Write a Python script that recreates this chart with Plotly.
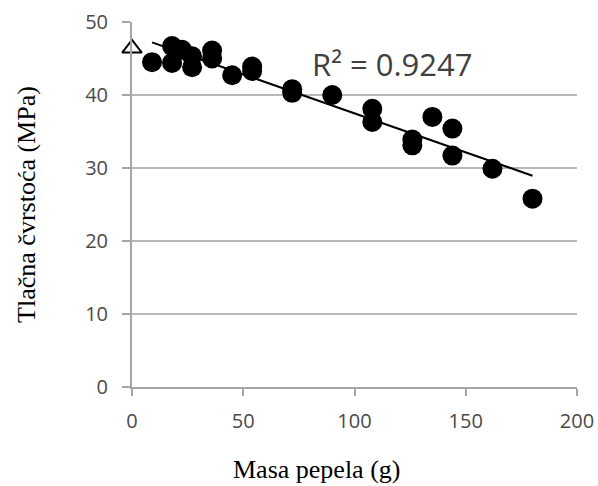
import numpy as np
import plotly.graph_objects as go

# Data
control_x = [0]
control_y = [46.4]

ash_mass = [9, 18, 18, 22.5, 27, 27, 36, 36, 45, 54, 54, 72, 72, 90,
            108, 108, 126, 126, 135, 144, 144, 162, 180]
strength = [44.5, 46.7, 44.4, 46.2, 45.3, 43.8, 46.1, 45.0, 42.7, 43.9, 43.3, 40.8, 40.3, 40.0,
            38.1, 36.3, 33.9, 33.1, 37.0, 35.4, 31.7, 29.9, 25.8]

r2_label = "R² = 0.9247"
x_title = "Masa pepela (g)"
y_title = "Tlačna čvrstoća (MPa)"
x_ticks = [0, 50, 100, 150, 200]
y_ticks = [0, 10, 20, 30, 40, 50]

# Linear trend through the filled points
slope, intercept = np.polyfit(ash_mass, strength, 1)
trend_x = [min(ash_mass), max(ash_mass)]
trend_y = [intercept + slope * v for v in trend_x]

fig = go.Figure()
fig.add_trace(go.Scatter(x=trend_x, y=trend_y, mode="lines",
                         line=dict(color="black", width=2), showlegend=False))
fig.add_trace(go.Scatter(x=ash_mass, y=strength, mode="markers",
                         marker=dict(symbol="circle", size=20, color="black"),
                         showlegend=False))
fig.add_trace(go.Scatter(x=control_x, y=control_y, mode="markers",
                         marker=dict(symbol="triangle-up", size=17, color="white",
                                     line=dict(width=2, color="black")),
                         showlegend=False, cliponaxis=False))

fig.add_annotation(x=117, y=44.2, xref="x", yref="y", text=r2_label,
                   showarrow=False, xanchor="center", yanchor="middle",
                   font=dict(family="Open Sans", size=31, color="#404040"))

axis_font = dict(family="Open Sans", size=20, color="#4a4a4a")
title_font = dict(family="Liberation Serif", size=26, color="black")

fig.add_annotation(x=0.4146, y=-0.225, xref="paper", yref="paper", text=x_title,
                   showarrow=False, xanchor="center", yanchor="middle",
                   font=title_font)

fig.update_xaxes(range=[0, 200], tickvals=x_ticks, showgrid=False, automargin=False,
                 showline=True, linecolor="#a6a6a6", linewidth=2,
                 ticks="outside", ticklen=7, tickcolor="#a6a6a6", tickwidth=2,
                 tickfont=axis_font, zeroline=False, ticklabelstandoff=8)
fig.update_yaxes(range=[0, 50], tickvals=y_ticks, showgrid=True, automargin=False,
                 gridcolor="#b8b8b8", gridwidth=2,
                 showline=True, linecolor="#a6a6a6", linewidth=2,
                 ticks="outside", ticklen=8, tickcolor="#a6a6a6", tickwidth=2,
                 tickfont=axis_font, zeroline=False, ticklabelstandoff=10,
                 title=dict(text=y_title, font=title_font, standoff=42))

fig.update_layout(width=598, height=486, margin=dict(l=132, r=21, t=22, b=99),
                  plot_bgcolor="white", paper_bgcolor="white")

fig.write_html("out.html", config={"displayModeBar": False},
               post_script="document.body.style.margin='0';")
